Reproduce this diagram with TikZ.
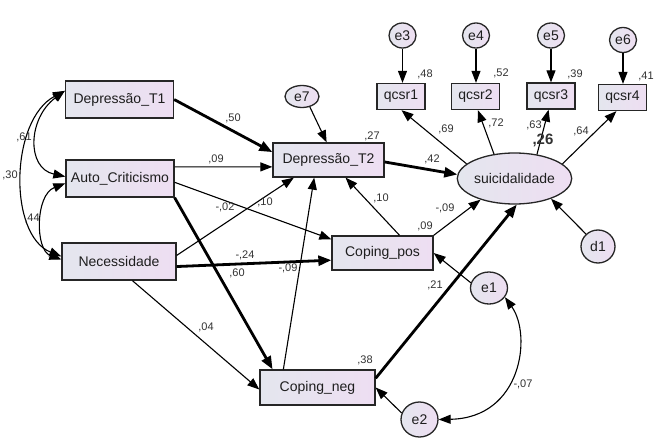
\documentclass[tikz,border=0pt]{standalone}
\usepackage{fontspec}
\setmainfont{Liberation Sans}
\usetikzlibrary{arrows.meta,shapes.geometric}
\definecolor{fillL}{RGB}{228,230,238}
\definecolor{fillR}{RGB}{238,222,242}
\definecolor{txt}{RGB}{30,30,30}
\definecolor{lab}{RGB}{50,50,50}
\begin{document}
\begin{tikzpicture}[x=1pt,y=-1pt,
 obs/.style={draw=black!85, line width=1.3pt, left color=fillL, right color=fillR, rectangle, inner sep=0pt, font=\fontsize{14}{16}\selectfont, text=txt},
 lat/.style={draw=black!85, line width=1.3pt, left color=fillL, right color=fillR, ellipse, inner sep=0pt, font=\fontsize{14}{16}\selectfont, text=txt},
 coef/.style={font=\fontsize{11}{12}\selectfont, text=lab, inner sep=0pt},
 arr/.style={draw=black, line width=1.1pt, -{Triangle[length=12pt,width=9pt]}},
 arrthick/.style={draw=black, line width=2.8pt, -{Triangle[length=13pt,width=10pt]}},
 cov/.style={draw=black, line width=1.1pt, {Triangle[length=12pt,width=9pt]}-{Triangle[length=12pt,width=9pt]}},
]
\fill[white] (0,0) rectangle (657,444);
\useasboundingbox (0,0) rectangle (657,444);

% observed variables
\node[obs, minimum width=108pt, minimum height=37pt] (dt1) at (119.5,99.5) {Depressão\_T1};
\node[obs, minimum width=108pt, minimum height=37pt] (auto) at (120,178.5) {Auto\_Criticismo};
\node[obs, minimum width=114pt, minimum height=37pt] (nec) at (119,261.5) {Necessidade};
\node[obs, minimum width=111pt, minimum height=34pt] (dt2) at (328.5,160) {Depressão\_T2};
\node[obs, minimum width=101pt, minimum height=34pt] (cpos) at (382.5,253) {Coping\_pos};
\node[obs, minimum width=115pt, minimum height=35pt] (cneg) at (317.5,387.5) {Coping\_neg};
\node[obs, minimum width=48pt, minimum height=26pt] (q1) at (401,96.5) {qcsr1};
\node[obs, minimum width=48pt, minimum height=26pt] (q2) at (475.5,96.5) {qcsr2};
\node[obs, minimum width=48pt, minimum height=26pt] (q3) at (551,96) {qcsr3};
\node[obs, minimum width=48pt, minimum height=26pt] (q4) at (622.5,97.5) {qcsr4};

% latent / error variables
\node[lat, minimum width=97pt, minimum height=51pt] (suic) at (514.5,178.5) {suicidalidade};
\node[lat, minimum width=27pt, minimum height=25pt] (e3) at (402.5,35.5) {e3};
\node[lat, minimum width=27pt, minimum height=25pt] (e4) at (476,35.5) {e4};
\node[lat, minimum width=27pt, minimum height=25pt] (e5) at (551,35.5) {e5};
\node[lat, minimum width=27pt, minimum height=25pt] (e6) at (623,40) {e6};
\node[lat, minimum width=34pt, minimum height=22pt] (e7) at (302,96.5) {e7};
\node[lat, minimum width=34pt, minimum height=33pt] (d1) at (598,246.5) {d1};
\node[lat, minimum width=37pt, minimum height=32pt] (e1) at (489,288) {e1};
\node[lat, minimum width=37pt, minimum height=35pt] (e2) at (419.5,419.5) {e2};

% structural paths
\draw[arrthick] (dt1.east) -- (dt2.172);
\draw[arr] (auto.12) -- (dt2.187);
\draw[arr] (auto.-4) -- (cpos.165);
\draw[arr] (nec.6) -- (dt2.207);
\draw[arrthick] (nec.-5) -- (cpos.188);
\draw[arrthick] (auto.south east) -- (cneg.158);
\draw[arr] (nec.-55) -- (cneg.182);
\draw[arr] (cneg.152) -- (dt2.231);
\draw[arr] (cpos.46) -- (dt2.-46);
\draw[arrthick] (dt2.-2) -- (suic.176);
\draw[arr] (cpos.north east) -- (suic.212);
\draw[arrthick] (cneg.9) -- (suic.-85);
\draw[arr] (e1.164) -- (cpos.east);
\draw[arr] (e2.160) -- (cneg.east);
\draw[arr] (d1.134) -- (suic.-29);
\draw[arr] (e7.-53) -- (dt2.96);

% measurement paths
\draw[arr] (suic.163) -- (q1.-88);
\draw[arr] (suic.130) -- (q2.-80);
\draw[arr] (suic.47) -- (q3.-100);
\draw[arr] (suic.17) -- (q4.246);
\draw[arr] (e3.south) -- (e3.south |- q1.north);
\draw[arr] (e4.south) -- (e4.south |- q2.north);
\draw[arr] (e5.south) -- (e5.south |- q3.north);
\draw[arr] (e6.south) -- (e6.south |- q4.north);

% covariances
\draw[cov] (dt1.171) .. controls (28,118) and (26,168) .. (auto.178);
\draw[cov] (dt1.171) .. controls (10,120) and (8,235) .. (nec.175);
\draw[cov] (auto.185) .. controls (35,195) and (35,250) .. (nec.178);
\draw[cov] (e1.-30) .. controls (532,335) and (522,418) .. (e2.0);

% coefficients
\node[coef] (c50) at (233,118) {,50};
\node[coef] (c09a) at (216,159) {,09};
\node[coef] (c61) at (24,137) {,61};
\node[coef] (c30) at (10,175) {,30};
\node[coef] (c44) at (32,218) {,44};
\node[coef] (c02) at (225,207) {-,02};
\node[coef] (c10a) at (265,202) {,10};
\node[coef] (c24) at (245,255) {-,24};
\node[coef] (c60) at (237,273) {,60};
\node[coef] (c09b) at (288,268) {-,09};
\node[coef] (c04) at (206,327) {,04};
\node[coef] (c38) at (365,360) {,38};
\node[coef] (c10b) at (381,198) {,10};
\node[coef] (c42) at (432,159) {,42};
\node[coef] (c27) at (372,136) {,27};
\node[coef] (c09c) at (445,208) {-,09};
\node[coef] (c09d) at (425,226) {,09};
\node[coef] (c21) at (435,285) {,21};
\node[coef] (c69) at (446,129) {,69};
\node[coef] (c72) at (496,123) {,72};
\node[coef] (c63) at (534,125) {,63};
\node[coef, font=\fontsize{15}{16}\selectfont\bfseries] (c26) at (543,140) {,26};
\node[coef] (c64) at (581,131) {,64};
\node[coef] (c48) at (425,74) {,48};
\node[coef] (c52) at (501,73) {,52};
\node[coef] (c39) at (575,74) {,39};
\node[coef] (c41) at (646,76) {,41};
\node[coef] (c07) at (523,384) {-,07};
\end{tikzpicture}
\end{document}
